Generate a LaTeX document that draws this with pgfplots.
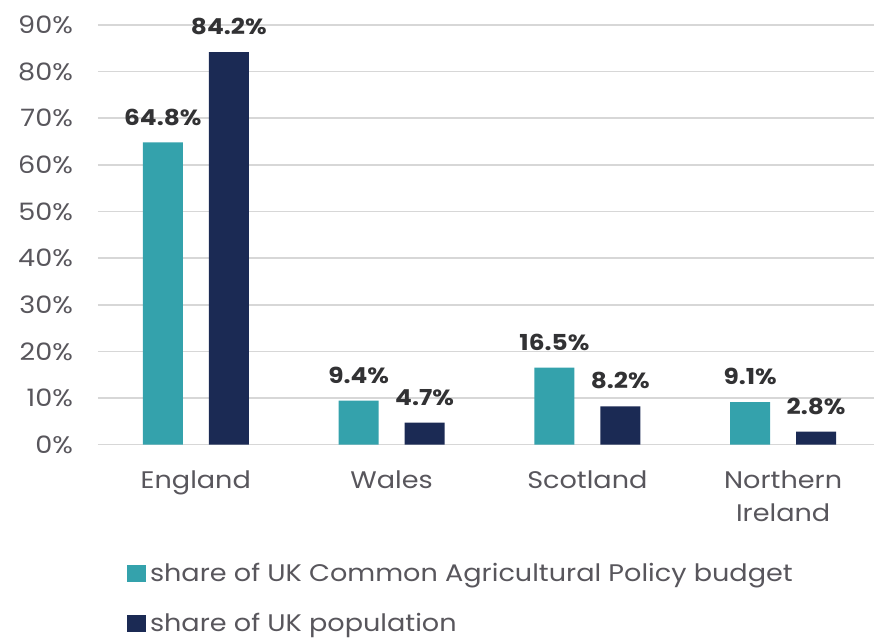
\documentclass[border=0pt]{standalone}
\usepackage{pgfplots}
\pgfplotsset{compat=1.18}
\usepackage{fontspec}
\setmainfont{Poppins}[FakeStretch=1.13]
\definecolor{cteal}{RGB}{52,162,172}
\definecolor{cnavy}{RGB}{27,42,84}
\definecolor{ctext}{RGB}{88,86,92}
\definecolor{clabel}{RGB}{50,50,52}
\definecolor{cgrid}{RGB}{215,215,215}
\begin{document}
\begin{tikzpicture}
\begin{axis}[
  name=ax,
  width=388.5pt, height=210pt, scale only axis,
  ybar, bar width=20pt,
  xmin=-0.5, xmax=3.465,
  ymin=0, ymax=90,
  ytick={0,10,20,30,40,50,60,70,80,90},
  yticklabels={0\%,10\%,20\%,30\%,40\%,50\%,60\%,70\%,80\%,90\%},
  xtick={0,1,2,3},
  xticklabels={England,Wales,Scotland,{Northern\\Ireland}},
  xticklabel style={align=center, text=ctext, font=\fontsize{12}{16.5}\selectfont, yshift=-5.5pt},
  yticklabel style={text=ctext, font=\fontsize{12}{14}\selectfont, xshift=-9pt},
  axis line style={draw=none},
  tick style={draw=none},
  ymajorgrids, grid style={cgrid, line width=0.8pt},
  /pgf/number format/assume math mode=true,
  nodes near coords={\pgfmathprintnumber[fixed,fixed zerofill,precision=1]{\pgfplotspointmeta}\%},
  nodes near coords style={text=clabel, font=\bfseries\fontsize{11}{14}\selectfont, yshift=5pt},
  legend style={draw=none, at={(0.037,-0.272)}, anchor=north west,
    font=\fontsize{12}{14}\selectfont, text=ctext, row sep=10.5pt,
    inner sep=0pt, /tikz/every even column/.append style={column sep=0pt}},
  legend cell align=left,
  legend image code/.code={\fill[#1] (0pt,-4pt) rectangle (9.5pt,4.5pt);},
]
\addplot+[bar shift=-16.5pt, fill=cteal, draw=none] coordinates {(0,64.8) (1,9.4) (2,16.5) (3,9.1)};
\addlegendentry{share of UK Common Agricultural Policy budget}
\addplot+[bar shift=16.5pt, fill=cnavy, draw=none] coordinates {(0,84.2) (1,4.7) (2,8.2) (3,2.8)};
\addlegendentry{share of UK population}
\end{axis}
\path (ax.south west) ++(-49pt,-96pt);
\path (ax.north east) ++(0,12.5pt);
\end{tikzpicture}
\end{document}
